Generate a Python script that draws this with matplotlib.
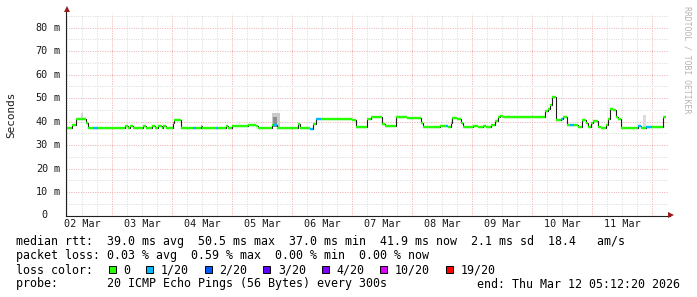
import matplotlib
matplotlib.use("Agg")
import matplotlib.pyplot as plt
from matplotlib.transforms import blended_transform_factory as blend
from matplotlib.patches import Rectangle

# ---------------- data ----------------
# time in hours since 02 Mar 00:00 (start of each median step)
seg_start_h = [5.2, 7.9, 9.3, 13.4, 14.1, 16.3, 18.1, 29.0, 30.3, 31.0,
               32.1, 36.1, 37.4, 39.7, 41.0, 42.3, 43.7, 44.3, 45.4, 48.1,
               48.6, 51.3, 56.3, 57.4, 59.3, 59.9, 65.4, 66.1, 69.4, 70.3,
               71.7, 78.3, 81.3, 82.1, 87.9, 88.3, 89.7, 98.1, 99.0, 103.0,
               104.1, 105.3, 107.4, 119.9, 121.3, 125.7, 127.4, 129.4, 131.7, 133.0,
               137.3, 141.9, 147.3, 148.3, 155.0, 157.4, 158.3, 159.3, 159.9, 161.7,
               163.4, 164.1, 168.1, 170.1, 172.3, 173.3, 175.4, 177.0, 178.1, 179.0,
               180.3, 197.0, 198.1, 199.0, 199.9, 201.3, 203.4, 204.1, 205.9, 207.0,
               208.6, 210.3, 211.7, 213.3, 214.3, 215.4, 216.3, 218.1, 219.4, 221.4,
               222.3, 223.0, 224.1, 225.3, 226.3, 227.4, 234.3, 235.4, 237.4, 239.7,
               244.3]
median_ms = [37.3, 38.5, 41.0, 39.5, 37.3, 37.3, 37.3, 38.0, 37.3, 38.0,
             37.3, 38.0, 37.3, 38.0, 37.3, 38.0, 37.3, 38.0, 37.3, 39.5,
             40.5, 37.3, 37.3, 37.3, 38.0, 37.3, 37.3, 37.3, 38.0, 37.3,
             38.0, 38.4, 38.0, 37.3, 38.5, 38.5, 37.3, 38.8, 37.3, 37.0,
             39.0, 41.3, 41.3, 40.6, 37.6, 41.3, 42.0, 41.8, 39.0, 38.2,
             42.0, 41.5, 39.2, 37.7, 38.0, 38.0, 37.7, 39.2, 41.6, 41.2,
             39.2, 37.6, 38.0, 37.6, 38.0, 37.6, 38.5, 40.3, 41.8, 42.3,
             42.0, 44.4, 45.3, 47.0, 50.5, 40.5, 40.9, 41.8, 38.6, 38.5,
             38.5, 37.6, 40.6, 39.2, 37.8, 39.5, 40.3, 37.6, 37.3, 38.6,
             41.3, 45.3, 45.0, 42.0, 41.3, 37.3, 38.0, 37.3, 37.8, 37.8,
             42.0]
loss_of_20 = [0, 0, 0, 0, 0, 1, 0, 0, 0, 0,
              0, 0, 0, 0, 0, 0, 0, 0, 0, 0,
              0, 0, 1, 0, 0, 0, 1, 0, 0, 0,
              0, 0, 0, 0, 0, 1, 0, 0, 0, 1,
              0, 1, 0, 0, 0, 0, 0, 0, 0, 0,
              0, 0, 0, 0, 0, 1, 0, 0, 0, 0,
              0, 0, 0, 0, 0, 0, 0, 0, 0, 0,
              0, 0, 0, 0, 0, 0, 1, 0, 0, 1,
              0, 0, 0, 0, 0, 0, 0, 0, 0, 0,
              0, 0, 0, 0, 0, 0, 1, 0, 1, 0,
              0]

# smoke (spread of the individual pings)
smoke_start_h = [11.4, 87.7, 88.3, 236.1]
smoke_end_h = [12.2, 91.0, 89.9, 237.4]
smoke_lo_ms = [41.0, 37.5, 37.7, 37.8]
smoke_hi_ms = [43.5, 43.6, 41.8, 42.8]
smoke_colors = ["#d4d4d4", "#cacaca", "#8e8e8e", "#dcdcdc"]

start_h = 5 + 12 / 60 + 20 / 3600          # 02 Mar 05:12:20
end_h = start_h + 240                       # 12 Mar 05:12:20
day_labels = ["02 Mar", "03 Mar", "04 Mar", "05 Mar", "06 Mar",
              "07 Mar", "08 Mar", "09 Mar", "10 Mar", "11 Mar"]
y_ticks = [0, 10, 20, 30, 40, 50, 60, 70, 80]

loss_thresholds = [0, 1, 2, 3, 4, 10, 19]
loss_labels = ["0", "1/20", "2/20", "3/20", "4/20", "10/20", "19/20"]
loss_colors = ["#26ff00", "#00b8ff", "#0059ff", "#5e00ff", "#7e00ff", "#dd00ff", "#ff0000"]

rtt_avg, rtt_max, rtt_min, rtt_now, rtt_sd, rtt_amps = 39.0, 50.5, 37.0, 41.9, 2.1, 18.4
loss_avg, loss_max, loss_min, loss_now = 0.03, 0.59, 0.00, 0.00
probe_text = "20 ICMP Echo Pings (56 Bytes) every 300s"
end_text = "end: Thu Mar 12 05:12:20 2026"

# ---------------- layout ----------------
W, H = 697, 297
L, R, B, T = 65.5, 665.5, 215.5, 13.5
PX_PER_MS = 2.3475
MONO = "DejaVu Sans Mono"

fig = plt.figure(figsize=(W / 100, H / 100), dpi=100)
fig.patch.set_facecolor("white")
ax = fig.add_axes([L / W, 1 - B / H, (R - L) / W, (B - T) / H])
ax.set_axis_off()
ax.set_xlim(start_h, end_h)
ymax = (B - T) / PX_PER_MS
ax.set_ylim(0, ymax)

grid_minor = "#dadada"
grid_major = "#f2aeae"
dot = (0, (1, 1.4))

# vertical grid
h = 6
while h < end_h:
    if h > start_h:
        major = (h % 24 == 0)
        ax.vlines(h, 0, ymax, colors=grid_major if major else grid_minor,
                  linewidth=0.72, linestyles=dot, zorder=1)
    h += 6
# horizontal grid
for v in range(5, 90, 5):
    if v > ymax:
        break
    major = (v % 10 == 0)
    ax.hlines(v, start_h, end_h + 1.2, colors=grid_major if major else grid_minor,
              linewidth=0.72, linestyles=dot, zorder=1, clip_on=False)

# smoke
for s, e, lo, hi, c in zip(smoke_start_h, smoke_end_h, smoke_lo_ms, smoke_hi_ms, smoke_colors):
    ax.bar(s, hi - lo, width=e - s, bottom=lo, align="edge", color=c, linewidth=0, zorder=2)

# median line
edges = seg_start_h + [end_h]
ax.stairs(median_ms, edges, baseline=None, color="#1c1c1c", linewidth=0.8, zorder=3)


def loss_color(n):
    col = loss_colors[0]
    for th, c in zip(loss_thresholds, loss_colors):
        if n >= th:
            col = c
    return col


seg_cols = [loss_color(n) for n in loss_of_20]
ax.hlines(median_ms, seg_start_h, edges[1:], colors=seg_cols, linewidth=1.7,
          zorder=4, capstyle="butt")

# axes lines + arrows
axis_col = "#202020"
arrow_col = "#9a1c1c"
ax.plot([0, 0], [0, 1 + 3 / (B - T)], transform=ax.transAxes, color=axis_col,
        linewidth=0.8, clip_on=False, zorder=5)
ax.plot([0, 1 + 4 / (R - L)], [0, 0], transform=ax.transAxes, color=axis_col,
        linewidth=0.8, clip_on=False, zorder=5)
ax.plot([1.5 / (R - L)], [1 + 4.5 / (B - T)], marker="^", markersize=4.2, color=arrow_col,
        transform=ax.transAxes, clip_on=False, zorder=6, markeredgewidth=0)
ax.plot([1 + 5.5 / (R - L)], [1.0 / (B - T)], marker=">", markersize=4.2, color=arrow_col,
        transform=ax.transAxes, clip_on=False, zorder=6, markeredgewidth=0)

# tick labels
tick_fs = 7.3
txt_col = "#1a1a1a"
xt = blend(ax.transData, fig.transFigure)
for i, lab in enumerate(day_labels):
    ax.text(i * 24 + 12, 1 - 224.3 / H, lab, transform=xt, ha="center", va="center",
            fontsize=tick_fs, family=MONO, color=txt_col)
yt = blend(fig.transFigure, ax.transData)
for v in y_ticks:
    ax.text(48 / W, v, f"{v}", transform=yt, ha="right", va="center",
            fontsize=tick_fs, family=MONO, color=txt_col)
    if v:
        ax.text(54 / W, v, "m", transform=yt, ha="left", va="center",
                fontsize=tick_fs, family=MONO, color=txt_col)

fig.text(11 / W, 1 - 114.5 / H, "Seconds", rotation=90, ha="center", va="center",
         fontsize=7.9, family=MONO, color=txt_col)
fig.text(687.5 / W, 1 - 60 / H, "RRDTOOL / TOBI OETIKER", rotation=-90, ha="center",
         va="center", fontsize=5.9, family=MONO, color="#b4b4b4")

# legend
leg_fs = 8.42
CW = 7.04
rows = [245.3, 259.5, 273.5, 287.5]
line1 = (f"median rtt:  {rtt_avg:.1f} ms avg  {rtt_max:.1f} ms max  {rtt_min:.1f} ms min  "
         f"{rtt_now:.1f} ms now  {rtt_sd:.1f} ms sd  {rtt_amps:.1f}   am/s")
line2 = (f"packet loss: {loss_avg:.2f} % avg  {loss_max:.2f} % max  "
         f"{loss_min:.2f} % min  {loss_now:.2f} % now")
fig.text(16 / W, 1 - rows[0] / H, line1, ha="left", va="baseline", fontsize=leg_fs,
         family=MONO, color="black")
fig.text(16 / W, 1 - rows[1] / H, line2, ha="left", va="baseline", fontsize=leg_fs,
         family=MONO, color="black")
fig.text(16 / W, 1 - rows[2] / H, "loss color:", ha="left", va="baseline", fontsize=leg_fs,
         family=MONO, color="black")
bx = 108.7
for lab, c in zip(loss_labels, loss_colors):
    fig.patches.append(Rectangle((bx / W, 1 - 272.7 / H), 7 / W, 7 / H,
                                 transform=fig.transFigure, facecolor=c,
                                 edgecolor="black", linewidth=0.7))
    fig.text((bx + 14.6) / W, 1 - rows[2] / H, lab, ha="left", va="baseline",
             fontsize=leg_fs, family=MONO, color="black")
    bx += 30.4 + len(lab) * CW
fig.text(16 / W, 1 - rows[3] / H, "probe:       " + probe_text, ha="left", va="baseline",
         fontsize=leg_fs, family=MONO, color="black")
fig.text(680 / W, 1 - rows[3] / H, end_text, ha="right", va="baseline",
         fontsize=leg_fs, family=MONO, color="black")

fig.savefig("out.png", dpi=100, facecolor="white")
